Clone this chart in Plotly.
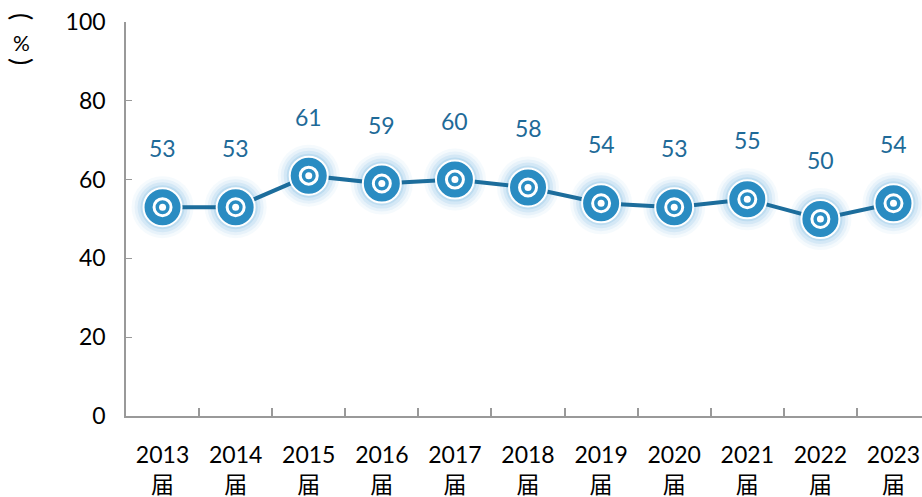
import plotly.graph_objects as go

# Share of graduates (%) by graduating cohort
years = ["2013", "2014", "2015", "2016", "2017", "2018", "2019", "2020", "2021", "2022", "2023"]
values = [53, 53, 61, 59, 60, 58, 54, 53, 55, 50, 54]
tick_labels = [f"{y}<br>届" for y in years]

x_pos = list(range(len(years)))
LINE_BLUE = "#1c6d9c"
DOT_BLUE = "#2a8cc2"
LABEL_BLUE = "#1e6a98"
FONT = "Lato, Noto Sans CJK SC, sans-serif"

fig = go.Figure()

# soft halo behind each marker
for size, alpha in [(62, 0.08), (56, 0.12), (50, 0.18), (44, 0.28)]:
    fig.add_trace(go.Scatter(
        x=x_pos, y=values, mode="markers",
        marker=dict(size=size, color=f"rgba(130,190,228,{alpha})", line=dict(width=0)),
        hoverinfo="skip", showlegend=False,
    ))

# connecting line
fig.add_trace(go.Scatter(
    x=x_pos, y=values, mode="lines",
    line=dict(color=LINE_BLUE, width=4),
    hoverinfo="skip", showlegend=False,
))

# main disc
fig.add_trace(go.Scatter(
    x=x_pos, y=values, mode="markers",
    marker=dict(size=38, color=DOT_BLUE, line=dict(color="white", width=2)),
    showlegend=False,
))
# inner white ring
fig.add_trace(go.Scatter(
    x=x_pos, y=values, mode="markers",
    marker=dict(size=17, color=DOT_BLUE, line=dict(color="white", width=3)),
    hoverinfo="skip", showlegend=False,
))
# center dot
fig.add_trace(go.Scatter(
    x=x_pos, y=values, mode="markers",
    marker=dict(size=7, color="white", line=dict(width=0)),
    hoverinfo="skip", showlegend=False,
))

# value labels above points
for xi, v in zip(x_pos, values):
    fig.add_annotation(
        x=xi, y=v, text=str(v), showarrow=False,
        yshift=59, font=dict(size=23, color=LABEL_BLUE, family=FONT),
    )

# unit label, stacked vertically: rotated brackets around an upright percent sign
for txt, ypx, ang, size in [("(", 17, 90, 27), ("%", 42, 0, 21), (")", 62, 90, 27)]:
    fig.add_annotation(
        xref="paper", yref="paper",
        x=(22 - 126) / 796, y=1 - (ypx - 22) / 394,
        xanchor="center", yanchor="middle",
        text=txt, textangle=ang, showarrow=False,
        font=dict(size=size, color="black", family=FONT),
    )

fig.update_layout(
    width=922, height=497,
    margin=dict(l=126, r=0, t=22, b=81),
    plot_bgcolor="white", paper_bgcolor="white",
    font=dict(family=FONT, size=23, color="black"),
    xaxis=dict(
        range=[-0.5, 10.39],
        tickmode="array", tickvals=x_pos, ticktext=tick_labels,
        ticks="", showgrid=False, zeroline=False,
        showline=True, linecolor="#999999", linewidth=1.5,
        minor=dict(tickmode="array", tickvals=[i + 0.5 for i in range(len(years) - 1)],
                   ticks="inside", ticklen=8, tickcolor="#999999", tickwidth=1.5),
        ticklabelstandoff=18,
        tickfont=dict(size=23, family=FONT),
    ),
    yaxis=dict(
        range=[0, 100], tickvals=[0, 20, 40, 60, 80, 100],
        ticks="inside", ticklen=6, tickcolor="#999999",
        showgrid=False, zeroline=False,
        showline=True, linecolor="#999999", linewidth=1.5,
        ticklabelstandoff=14,
        tickfont=dict(size=23, family=FONT),
    ),
)

fig.write_html("out.html")
